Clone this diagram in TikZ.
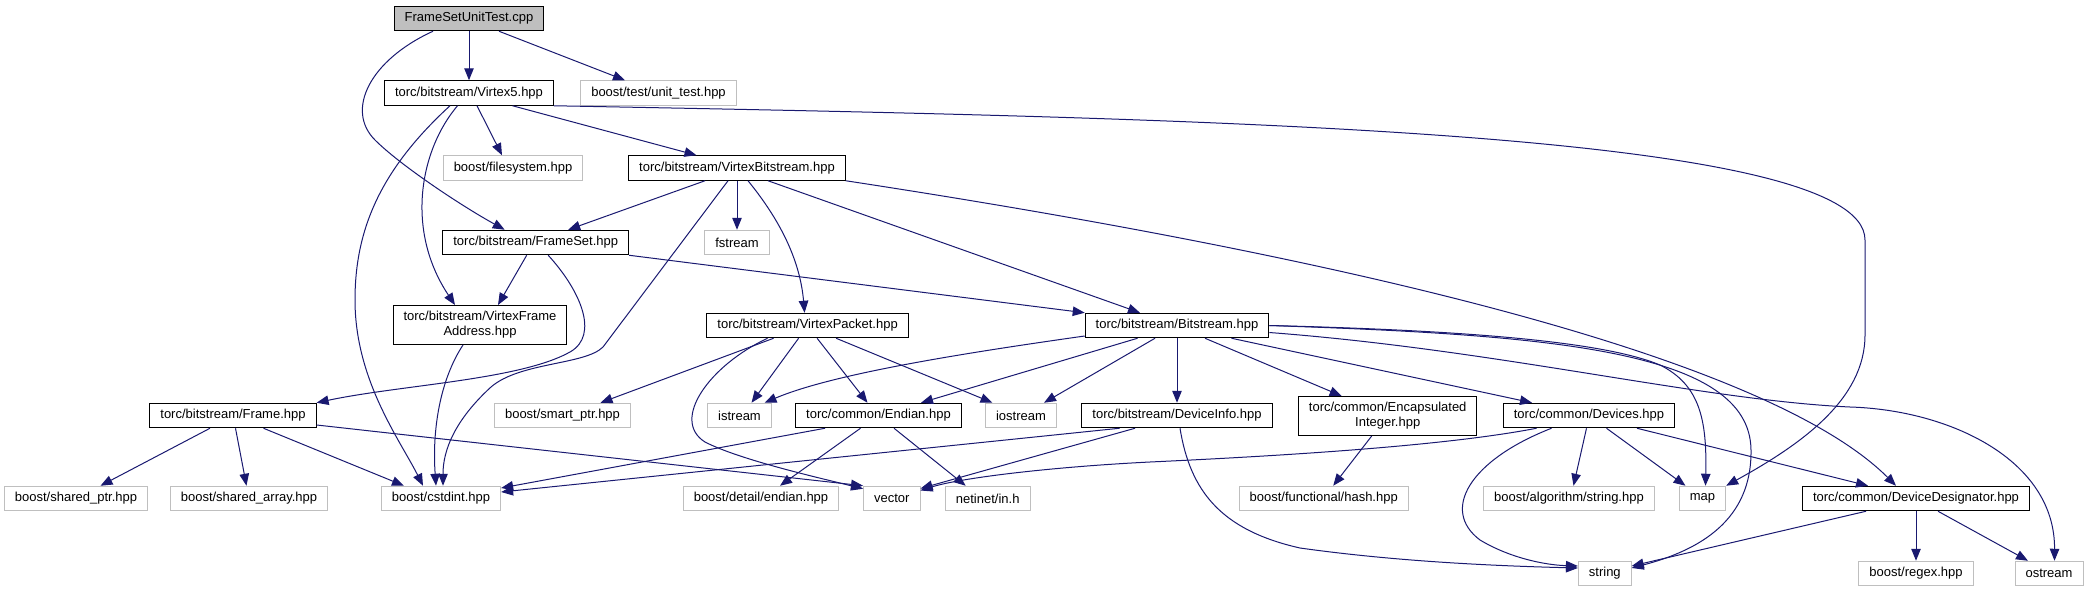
\documentclass[tikz,border=0pt]{standalone}
\usepackage{fontspec}
\setmainfont{Liberation Sans}
\usepackage{tikz}
\usetikzlibrary{arrows.meta}
\definecolor{edgeblue}{RGB}{25,25,112}
\definecolor{extgray}{RGB}{191,191,191}

\begin{document}
\begin{tikzpicture}[
      x=1pt, y=-1pt,
      box/.style={rectangle, draw, line width=1pt, minimum height=24.5pt, inner xsep=10.5pt, inner ysep=0pt, align=center, font=\fontsize{13}{15}\selectfont},
      hdr/.style={box, draw=black},
      ext/.style={box, draw=extgray},
      tall/.style={minimum height=39pt},
      arrow/.style={-{Triangle[length=12pt,width=9.5pt]}, color=edgeblue, line width=1pt}
    ]
      \useasboundingbox (0,0) rectangle (2089,592);

      % Root file
      \node[hdr, fill=extgray] (root) at (469,18.5) {FrameSetUnitTest.cpp};

      % Row 1
      \node[hdr] (v5) at (469,93) {torc/bitstream/Virtex5.hpp};
      \node[ext] (unittest) at (658.5,93) {boost/test/unit\_test.hpp};

      % Row 2
      \node[ext] (fs) at (513,168) {boost/filesystem.hpp};
      \node[hdr] (vbs) at (737,168) {torc/bitstream/VirtexBitstream.hpp};

      % Row 3
      \node[hdr] (frameset) at (535.7,242.5) {torc/bitstream/FrameSet.hpp};
      \node[ext] (fstream) at (737,242.5) {fstream};

      % Row 4
      \node[hdr, tall] (vfa) at (480,325) {torc/bitstream/VirtexFrame\\Address.hpp};
      \node[hdr] (vpkt) at (807.6,325.5) {torc/bitstream/VirtexPacket.hpp};
      \node[hdr] (bits) at (1177,325.5) {torc/bitstream/Bitstream.hpp};

      % Row 5
      \node[hdr] (frame) at (233,415.5) {torc/bitstream/Frame.hpp};
      \node[ext] (smartptr) at (562.5,415.5) {boost/smart\_ptr.hpp};
      \node[ext] (istream) at (739.5,415.5) {istream};
      \node[hdr] (endian) at (878.5,415.5) {torc/common/Endian.hpp};
      \node[ext] (iostream) at (1021,415.5) {iostream};
      \node[hdr] (devinfo) at (1177,415.5) {torc/bitstream/DeviceInfo.hpp};
      \node[hdr, tall] (encap) at (1387.7,416) {torc/common/Encapsulated\\Integer.hpp};
      \node[hdr] (devices) at (1589,415.5) {torc/common/Devices.hpp};

      % Row 6
      \node[ext] (sharedptr) at (76,498.5) {boost/shared\_ptr.hpp};
      \node[ext] (sharedarray) at (249,498.5) {boost/shared\_array.hpp};
      \node[ext] (cstdint) at (441,498.5) {boost/cstdint.hpp};
      \node[ext] (detendian) at (761,498.5) {boost/detail/endian.hpp};
      \node[ext] (vector) at (891.8,498.5) {vector};
      \node[ext] (netinet) at (987.7,498.5) {netinet/in.h};
      \node[ext] (hash) at (1323.7,498.5) {boost/functional/hash.hpp};
      \node[ext] (algostr) at (1569,498.5) {boost/algorithm/string.hpp};
      \node[ext] (map) at (1702.5,498.5) {map};
      \node[hdr] (devdes) at (1916,498.5) {torc/common/DeviceDesignator.hpp};

      % Row 7
      \node[ext] (string) at (1604.8,573.5) {string};
      \node[ext] (regex) at (1916,573.5) {boost/regex.hpp};
      \node[ext] (ostream) at (2049,573.5) {ostream};

      % FrameSetUnitTest.cpp
      \draw[arrow] (root.south) -- (v5.north);
      \draw[arrow] ([xshift=30pt]root.south) -- ([xshift=-33.5pt]unittest.north);
      \draw[arrow] ([xshift=-36pt]root.south) .. controls (370,60) and (345,110) .. (375,140)
        .. controls (400,165) and (460,205) .. ([xshift=-31pt]frameset.north);

      % Virtex5.hpp
      \draw[arrow] ([xshift=8pt]v5.south) -- ([xshift=-11pt]fs.north);
      \draw[arrow] ([xshift=43.5pt]v5.south) -- ([xshift=-40.5pt]vbs.north);
      \draw[arrow] (v5.south east) .. controls (1200,118) and (1865,130) .. (1865,240) -- (1865,335)
        .. controls (1865,400) and (1800,445) .. (map.north east);
      \draw[arrow] ([xshift=-19pt]v5.south) .. controls (380,170) and (355,230) .. (355,300)
        .. controls (355,380) and (400,440) .. ([xshift=-18pt]cstdint.north);
      \draw[arrow] ([xshift=-11.5pt]v5.south) .. controls (420,150) and (405,230) .. ([xshift=-25pt]vfa.north);

      % VirtexBitstream.hpp
      \draw[arrow] ([xshift=-32pt]vbs.south) -- ([xshift=32.5pt]frameset.north);
      \draw[arrow] (vbs.south) -- (fstream.north);
      \draw[arrow] ([xshift=11pt]vbs.south) .. controls (780,220) and (800,260) .. ([xshift=-3pt]vpkt.north);
      \draw[arrow] ([xshift=31pt]vbs.south) -- ([xshift=-37pt]bits.north);
      \draw[arrow] (vbs.south east) .. controls (1300,250) and (1760,350) .. ([xshift=-20pt]devdes.north);
      \draw[arrow] ([xshift=-9pt]vbs.south) -- (603,347) .. controls (585,365) and (520,362) .. (491,387)
        .. controls (455,420) and (443,450) .. ([xshift=2pt]cstdint.north);

      % FrameSet.hpp
      \draw[arrow] ([xshift=-9pt]frameset.south) -- ([xshift=18pt]vfa.north);
      \draw[arrow] ([xshift=12.5pt]frameset.south) .. controls (580,290) and (600,335) .. (570,352)
        .. controls (520,380) and (400,385) .. (frame.north east);
      \draw[arrow] (frameset.south east) -- (bits.north west);

      % VirtexFrameAddress.hpp
      \draw[arrow] ([xshift=-17pt]vfa.south) .. controls (440,380) and (432,430) .. ([xshift=-5pt]cstdint.north);

      % Frame.hpp
      \draw[arrow] ([xshift=-23pt]frame.south) -- ([xshift=24.5pt]sharedptr.north);
      \draw[arrow] ([xshift=2.5pt]frame.south) -- ([xshift=-2.5pt]sharedarray.north);
      \draw[arrow] ([xshift=30.5pt]frame.south) -- ([xshift=-37pt]cstdint.north);
      \draw[arrow] ([yshift=-9.5pt]frame.east) -- (vector.north west);

      % VirtexPacket.hpp
      \draw[arrow] ([xshift=-34pt]vpkt.south) -- ([xshift=38pt]smartptr.north);
      \draw[arrow] ([xshift=-40pt]vpkt.south) .. controls (710,365) and (670,420) .. (705,442)
        .. controls (740,460) and (820,478) .. ([yshift=-3pt]vector.north west);
      \draw[arrow] ([xshift=-9pt]vpkt.south) -- ([xshift=12pt]istream.north);
      \draw[arrow] ([xshift=9.5pt]vpkt.south) -- ([xshift=-11pt]endian.north);
      \draw[arrow] ([xshift=28.5pt]vpkt.south) -- ([xshift=-28.5pt]iostream.north);

      % Bitstream.hpp
      \draw[arrow] ([yshift=-10.5pt]bits.west) .. controls (950,355) and (830,375) .. ([xshift=25pt]istream.north);
      \draw[arrow] ([xshift=-39.5pt]bits.south) -- ([xshift=42.5pt]endian.north);
      \draw[arrow] ([xshift=-22pt]bits.south) -- ([xshift=23pt]iostream.north);
      \draw[arrow] (bits.south) -- (devinfo.north);
      \draw[arrow] ([xshift=28pt]bits.south) -- ([xshift=-46pt]encap.north);
      \draw[arrow] ([xshift=54.5pt]bits.south) -- ([xshift=-57pt]devices.north);
      \draw[arrow] (bits.east) .. controls (1450,330) and (1600,340) .. (1660,365)
        .. controls (1700,385) and (1707,420) .. ([xshift=3pt]map.north);
      \draw[arrow] (bits.east) .. controls (1550,335) and (1750,350) .. (1751,450)
        .. controls (1752,520) and (1700,550) .. ([yshift=5.5pt]string.east);
      \draw[arrow] ([yshift=-7pt]bits.east) .. controls (1500,350) and (1700,400) .. (1850,407)
        .. controls (1950,410) and (2055,460) .. ([xshift=5.5pt]ostream.north);

      % Endian.hpp
      \draw[arrow] ([xshift=-53.5pt]endian.south) -- ([yshift=10.5pt]cstdint.east);
      \draw[arrow] ([xshift=-18pt]endian.south) -- ([xshift=19pt]detendian.north);
      \draw[arrow] ([xshift=15.5pt]endian.south) -- ([xshift=-22pt]netinet.north);

      % DeviceInfo.hpp
      \draw[arrow] ([xshift=-57.5pt]devinfo.south) -- ([yshift=6.5pt]cstdint.east);
      \draw[arrow] ([xshift=-42pt]devinfo.south) -- ([yshift=10pt]vector.east);
      \draw[arrow] ([xshift=3pt]devinfo.south) .. controls (1190,490) and (1220,530) .. (1300,548)
        .. controls (1400,562) and (1500,566) .. ([yshift=5.5pt]string.west);

      % EncapsulatedInteger.hpp
      \draw[arrow] ([xshift=-16pt]encap.south) -- ([xshift=9.5pt]hash.north);

      % Devices.hpp
      \draw[arrow] ([xshift=-52.5pt]devices.south) .. controls (1450,445) and (1300,455) .. (1150,462)
        .. controls (1050,467) and (960,478) .. ([yshift=8pt]vector.east);
      \draw[arrow] ([xshift=-2.5pt]devices.south) -- ([xshift=4.5pt]algostr.north);
      \draw[arrow] ([xshift=17.5pt]devices.south) -- ([xshift=-17pt]map.north);
      \draw[arrow] ([xshift=48pt]devices.south) -- ([xshift=-48pt]devdes.north);
      \draw[arrow] ([xshift=-37.5pt]devices.south) .. controls (1470,460) and (1440,510) .. (1480,540)
        .. controls (1510,558) and (1545,565) .. ([yshift=7.5pt]string.west);

      % DeviceDesignator.hpp
      \draw[arrow] ([xshift=-50pt]devdes.south) -- ([yshift=7.5pt]string.east);
      \draw[arrow] (devdes.south) -- (regex.north);
      \draw[arrow] ([xshift=22pt]devdes.south) -- ([xshift=-21pt]ostream.north);

    \end{tikzpicture}
\end{document}
